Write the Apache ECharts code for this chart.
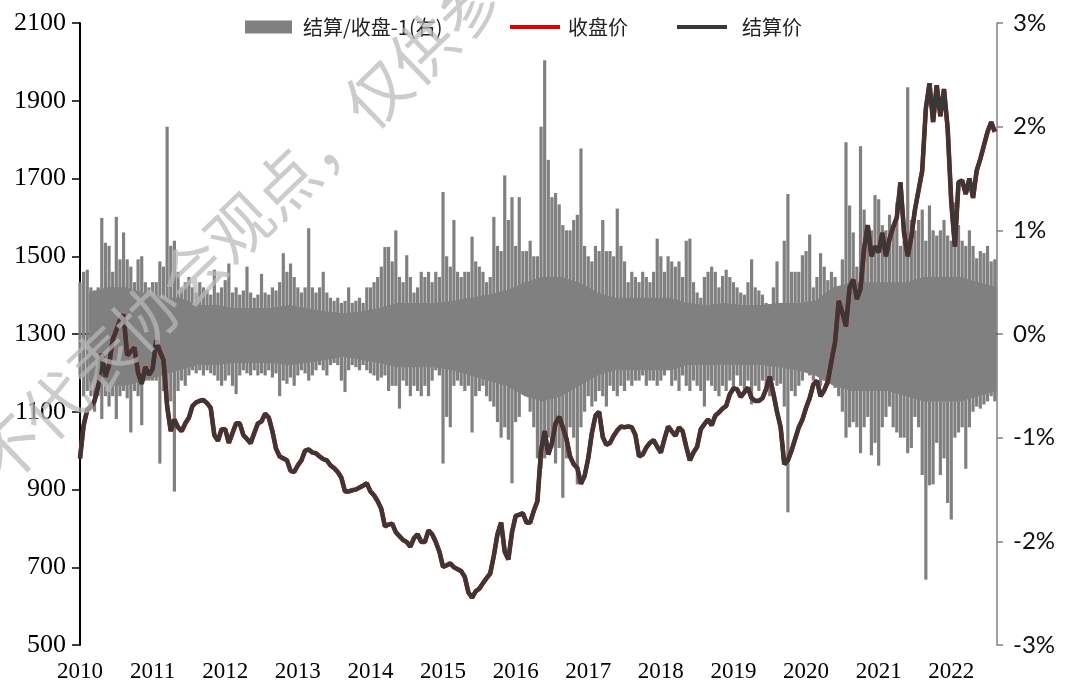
<!DOCTYPE html>
<html>
<head>
<meta charset="utf-8">
<script src="https://cdn.jsdelivr.net/npm/echarts@6/dist/echarts.min.js"></script>
<style>
html,body{margin:0;padding:0;background:#fff;}
#c{width:1072px;height:688px;}
</style>
</head>
<body>
<div id="c"></div>
<script>
// Sampling: one value every 0.05 year starting at 2010.00
const START_YEAR = 2010;
const STEP = 0.05;
// the dense core of the spread band is read per quarter
const CORE_STEP = 0.25;

// 结算价 (settlement price)
const settle = [
  980,1065,1105,1113,1128,1165,1250,1190,1220,1285,1310,1335,1350,1245,1255,1265,1200,1172,1215,1195,
  1210,1284,1255,1233,1115,1050,1080,1060,1050,1070,1085,1115,1124,1128,1130,1122,1110,1040,1025,1055,
  1055,1020,1045,1070,1070,1040,1030,1019,1045,1070,1075,1095,1085,1050,1005,985,980,975,948,945,
  962,975,1000,1003,995,993,985,978,975,962,955,945,930,895,895,898,900,905,910,916,
  895,885,870,850,805,810,812,790,780,770,765,753,775,785,765,765,795,785,765,740,
  701,705,710,700,695,690,675,635,622,638,645,659,672,684,730,785,815,740,720,790,
  832,835,839,815,815,845,870,1000,1050,990,1020,1070,1087,1060,1030,985,965,955,915,935,
  980,1045,1090,1100,1035,1015,1020,1038,1052,1062,1060,1062,1060,1040,985,990,1008,1020,1027,1010,
  995,1030,1062,1050,1038,1060,1050,1010,975,995,1010,1055,1068,1080,1065,1090,1098,1108,1115,1145,
  1160,1158,1138,1150,1162,1135,1128,1128,1135,1158,1190,1147,1100,1060,965,975,1000,1030,1060,1080,
  1110,1135,1170,1180,1140,1155,1178,1230,1280,1385,1355,1320,1420,1440,1390,1415,1520,1580,1500,1525,
  1510,1560,1500,1545,1575,1600,1690,1560,1500,1550,1620,1670,1720,1880,1945,1845,1940,1860,1930,1830,
  1640,1525,1690,1695,1660,1700,1650,1720,1750,1785,1820,1845,1820
];
// 收盘价 (closing price) coincides with the settlement line at this resolution
const closePrice = settle;

// 结算/收盘-1 (%), upper spikes of each period
const spreadUp = [
  0.5,0.6,0.62,0.45,0.42,0.45,1.12,0.88,0.85,0.6,1.13,0.72,0.98,0.72,0.65,0.5,0.72,0.75,0.5,0.45,
  0.5,0.5,0.7,0.65,2.0,0.85,0.9,0.6,0.45,0.5,0.55,0.45,0.4,0.5,0.45,0.42,0.38,0.62,0.4,0.45,
  0.52,0.68,0.4,0.45,0.38,0.42,0.65,0.4,0.35,0.38,0.58,0.4,0.38,0.45,0.42,0.5,0.78,0.6,0.68,0.55,
  0.45,0.4,0.45,1.02,0.45,0.4,0.45,0.6,0.4,0.35,0.32,0.35,0.3,0.32,0.45,0.3,0.32,0.35,0.3,0.45,
  0.45,0.5,0.55,0.65,0.84,0.84,0.7,1.0,0.55,0.5,0.76,0.55,0.4,0.45,0.6,0.55,0.6,0.5,0.6,0.55,
  1.37,0.75,0.65,1.1,0.6,0.55,0.6,0.6,0.94,0.7,0.65,0.6,0.5,0.55,1.13,0.85,0.8,1.53,1.1,1.32,
  0.85,1.32,0.8,0.8,0.9,0.75,0.75,2.0,2.64,1.68,1.32,1.36,1.25,1.05,1.0,1.0,1.1,1.15,1.79,0.85,
  0.75,0.7,0.85,0.8,1.1,0.8,0.8,0.75,1.21,0.85,0.7,0.5,0.6,0.55,0.5,0.6,0.55,0.5,0.6,0.92,
  0.75,0.6,0.75,0.7,0.65,0.7,0.55,0.9,0.92,0.5,0.4,0.35,0.55,0.6,0.65,0.6,0.45,0.56,0.62,0.55,
  0.5,0.45,0.4,0.38,0.5,0.72,0.45,0.42,0.38,0.3,0.25,0.45,0.7,0.3,0.9,1.35,0.6,0.6,0.6,0.76,
  0.8,0.96,0.45,0.55,0.78,0.65,0.52,0.6,0.55,0.45,0.72,1.85,1.24,0.98,0.65,1.81,1.2,0.9,1.0,1.34,
  1.3,1.05,1.0,1.15,1.0,1.27,0.85,0.9,2.38,1.1,1.0,1.1,1.2,0.9,1.24,1.0,0.95,1.0,1.1,0.95,
  0.9,1.27,1.05,0.9,0.85,1.0,0.85,0.73,0.8,0.78,0.85,0.7,0.72
];
// 结算/收盘-1 (%), lower spikes of each period
const spreadDown = [
  -0.4,-0.6,-0.55,-0.6,-0.75,-0.6,-0.82,-0.6,-0.7,-0.6,-0.82,-0.6,-0.55,-0.62,-0.95,-0.55,-0.6,-0.88,-0.45,-0.45,
  -0.45,-0.45,-1.25,-0.55,-0.6,-0.65,-1.52,-0.55,-0.45,-0.5,-0.4,-0.35,-0.38,-0.35,-0.4,-0.35,-0.38,-0.4,-0.45,-0.5,
  -0.45,-0.4,-0.5,-0.58,-0.4,-0.35,-0.38,-0.4,-0.35,-0.4,-0.38,-0.4,-0.35,-0.42,-0.38,-0.6,-0.45,-0.48,-0.42,-0.5,
  -0.4,-0.35,-0.38,-0.45,-0.4,-0.35,-0.3,-0.35,-0.4,-0.3,-0.28,-0.3,-0.45,-0.56,-0.35,-0.3,-0.32,-0.35,-0.3,-0.35,
  -0.38,-0.4,-0.45,-0.42,-0.4,-0.55,-0.5,-0.5,-0.72,-0.45,-0.5,-0.6,-0.5,-0.55,-0.6,-0.5,-0.6,-0.45,-0.35,-0.4,
  -1.25,-0.8,-0.9,-0.5,-0.45,-0.5,-0.55,-0.5,-0.95,-0.6,-0.55,-0.5,-0.6,-0.65,-0.7,-0.85,-1.0,-0.9,-1.02,-1.44,
  -0.85,-0.8,-0.45,-0.5,-0.75,-0.9,-1.2,-1.3,-1.2,-1.0,-1.1,-1.25,-1.1,-1.58,-1.2,-0.9,-1.0,-1.45,-0.9,-0.75,
  -0.6,-0.7,-0.65,-0.55,-0.6,-0.7,-0.5,-0.55,-0.6,-0.5,-0.55,-0.45,-0.5,-0.45,-0.45,-0.4,-0.5,-0.45,-0.45,-0.5,
  -0.45,-0.4,-0.35,-0.5,-0.45,-0.55,-0.4,-0.5,-0.55,-0.45,-0.5,-0.55,-0.7,-0.45,-0.5,-0.55,-0.6,-0.5,-0.55,-0.45,
  -0.55,-0.4,-0.5,-0.55,-0.45,-0.68,-0.5,-0.55,-0.45,-0.5,-0.6,-0.45,-0.5,-0.48,-0.7,-1.72,-0.55,-0.6,-0.5,-0.45,
  -0.35,-0.4,-0.45,-0.38,-0.5,-0.45,-0.5,-0.4,-0.52,-0.6,-0.75,-1.0,-0.9,-0.85,-0.9,-1.15,-0.9,-0.8,-1.17,-1.05,
  -1.27,-0.9,-0.8,-0.7,-0.9,-0.95,-1.0,-1.0,-1.15,-1.1,-0.8,-0.9,-1.36,-2.37,-1.46,-1.45,-1.05,-1.36,-1.2,-1.63,
  -1.79,-1.0,-0.95,-0.9,-1.3,-0.9,-0.75,-0.7,-0.72,-0.68,-0.65,-0.6,-0.65
];

// dense core of the band per quarter (%), upper and lower edge
const coreUp = [
  0.4,0.45,0.45,0.4, 0.35,0.35,0.28,0.28, 0.25,0.25,0.25,0.28, 0.25,0.22,0.2,0.22,
  0.25,0.3,0.3,0.3, 0.32,0.35,0.38,0.42, 0.5,0.55,0.55,0.5, 0.4,0.35,0.35,0.35,
  0.35,0.3,0.28,0.3, 0.28,0.28,0.3,0.3, 0.32,0.45,0.5,0.5, 0.5,0.5,0.55,0.55,
  0.55,0.5,0.45
];
const coreDown = [
  -0.45,-0.5,-0.5,-0.45, -0.4,-0.35,-0.3,-0.3, -0.28,-0.28,-0.28,-0.3, -0.28,-0.25,-0.22,-0.25,
  -0.28,-0.32,-0.32,-0.32, -0.35,-0.4,-0.45,-0.5, -0.6,-0.65,-0.6,-0.5, -0.4,-0.35,-0.35,-0.35,
  -0.35,-0.3,-0.3,-0.3, -0.3,-0.3,-0.32,-0.35, -0.4,-0.5,-0.55,-0.55, -0.55,-0.6,-0.65,-0.65,
  -0.65,-0.6,-0.55
];

const yearTicks = [2010,2011,2012,2013,2014,2015,2016,2017,2018,2019,2020,2021,2022];
const priceTicks = [500,700,900,1100,1300,1500,1700,1900,2100];
const pctTicks = [-3,-2,-1,0,1,2,3];
const legendNames = ['结算/收盘-1(右)', '收盘价', '结算价'];
const watermark = '不代表协会观点，仅供参考';

// x positions of the periods (fractional years)
const xs = settle.map((_, i) => +(START_YEAR + i * STEP).toFixed(2));
const coreXs = coreUp.map((_, k) => START_YEAR + (k + 0.5) * CORE_STEP);

const X_MIN = 2010, X_MAX = 2022.63;
const GRAY = '#808080';
const legendFont = {fontFamily: '"Noto Sans CJK SC"', fontSize: 20, color: '#222'};

function coreArea(vals) {
  return {
    name: legendNames[0], type: 'line', yAxisIndex: 1, symbol: 'none', z: 1,
    lineStyle: {width: 0, color: GRAY}, itemStyle: {color: GRAY},
    areaStyle: {color: GRAY, opacity: 1, origin: 'auto'},
    data: coreXs.map((x, k) => [x, vals[k]])
  };
}

const chart = echarts.init(document.getElementById('c'), null, {renderer: 'canvas'});
chart.setOption({
  animation: false,
  backgroundColor: '#fff',
  grid: {left: 80, right: 75, top: 23, bottom: 43, containLabel: false},
  legend: [
    {data: [{name: legendNames[0], icon: 'rect', itemStyle: {color: GRAY}}], left: 240, top: 12, itemWidth: 47, itemHeight: 13,
     textStyle: Object.assign({padding: [0, 0, 0, 6]}, legendFont)},
    {data: [{name: legendNames[1], icon: 'rect'}], left: 505, top: 12, itemWidth: 50, itemHeight: 4,
     textStyle: Object.assign({padding: [0, 0, 0, 3]}, legendFont)},
    {data: [{name: legendNames[2], icon: 'rect'}], left: 672, top: 12, itemWidth: 50, itemHeight: 4,
     textStyle: Object.assign({padding: [0, 0, 0, 10]}, legendFont)}
  ],
  xAxis: {
    type: 'value', min: X_MIN, max: X_MAX, interval: 1,
    axisLine: {show: true, lineStyle: {color: '#000', width: 2}},
    axisTick: {show: true, inside: false, length: 10, lineStyle: {color: '#000', width: 1.5}, customValues: yearTicks},
    axisLabel: {customValues: yearTicks, formatter: v => String(Math.round(v)), fontFamily: '"Liberation Serif"', fontSize: 23, color: '#000', margin: 15},
    splitLine: {show: false}
  },
  yAxis: [
    {
      type: 'value', position: 'left', min: 500, max: 2100, interval: 200,
      axisLine: {show: true, lineStyle: {color: '#000', width: 2}},
      axisTick: {show: true, length: 8, lineStyle: {color: '#000', width: 1.5}, customValues: priceTicks},
      axisLabel: {customValues: priceTicks, formatter: v => String(v), fontFamily: '"Liberation Serif"', fontSize: 26, color: '#000', margin: 14},
      splitLine: {show: false}
    },
    {
      type: 'value', position: 'right', min: -3, max: 3, interval: 1,
      axisLine: {show: true, lineStyle: {color: GRAY, width: 1.5}},
      axisTick: {show: true, length: 6, lineStyle: {color: GRAY, width: 1.5}, customValues: pctTicks},
      axisLabel: {customValues: pctTicks, formatter: v => v + '%', fontFamily: 'Lato', fontSize: 24, color: '#111', margin: 16},
      splitLine: {show: false}
    }
  ],
  series: [
    {
      name: legendNames[0], type: 'bar', yAxisIndex: 1, barWidth: 3.2, barGap: '-100%',
      itemStyle: {color: GRAY}, z: 1,
      data: xs.map((x, i) => [x, spreadUp[i]])
    },
    {
      name: legendNames[0], type: 'bar', yAxisIndex: 1, barWidth: 3.2, barGap: '-100%',
      itemStyle: {color: GRAY}, z: 1,
      data: xs.map((x, i) => [x, spreadDown[i]])
    },
    coreArea(coreUp),
    coreArea(coreDown),
    {
      name: legendNames[1], type: 'line', yAxisIndex: 0, symbol: 'none', z: 3,
      lineStyle: {color: '#e00000', width: 4.6}, itemStyle: {color: '#e00000'},
      data: xs.map((x, i) => [x, closePrice[i]])
    },
    {
      name: legendNames[2], type: 'line', yAxisIndex: 0, symbol: 'none', z: 4,
      lineStyle: {color: '#383838', width: 4.2}, itemStyle: {color: '#383838'},
      data: xs.map((x, i) => [x, settle[i]])
    }
  ],
  graphic: [{
    type: 'text', x: 262, y: 205, rotation: 44 * Math.PI / 180, z: 100, silent: true,
    style: {
      text: watermark, fill: 'rgba(185,185,185,0.72)',
      font: '64px "Noto Sans CJK SC"', align: 'center', verticalAlign: 'middle'
    }
  }]
});
</script>
</body>
</html>
